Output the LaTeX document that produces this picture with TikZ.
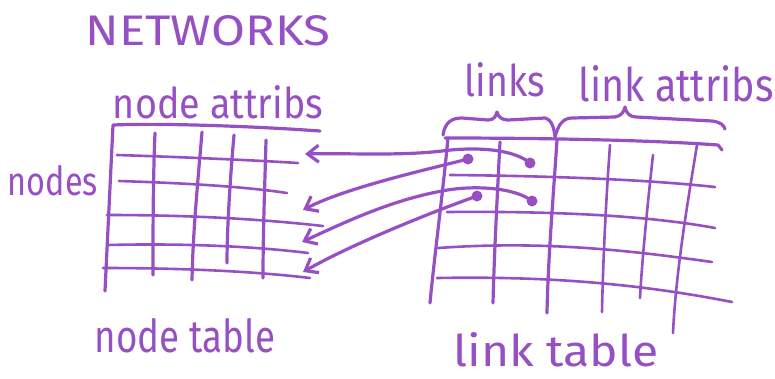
\documentclass[tikz,border=0pt]{standalone}
\usepackage{fontspec}
\setmainfont{Fira Sans}
\usetikzlibrary{arrows.meta}
\definecolor{ink}{RGB}{150,80,195}
\newcommand{\hw}[3]{\resizebox{#1pt}{#2pt}{#3}}
\begin{document}
\begin{tikzpicture}[x=1pt,y=-1pt,
  pen/.style={draw=ink, line width=3.2pt, line cap=round, line join=round},
  fine/.style={draw=ink, line width=2.6pt, line cap=round, line join=round},
  barb/.style={-{Straight Barb[length=11pt,width=17pt]}},
  dot/.style={circle, fill=ink, inner sep=0pt, minimum size=11pt},
  lbl/.style={text=ink, inner sep=0pt}]
\useasboundingbox (0,0) rectangle (775,378);

% titles and captions
\node[lbl] (title) at (208,31) {\hw{245}{30}{NETWORKS}};
\node[lbl] (nattr) at (218,102) {\hw{210}{33}{node attribs}};
\node[lbl] (nodes) at (53,181) {\hw{90}{30}{nodes}};
\node[lbl] (ntab) at (185,336) {\hw{180}{34}{node table}};
\node[lbl] (links) at (505,80) {\hw{80}{34}{links}};
\node[lbl] (lattr) at (676,84) {\hw{195}{36}{link attribs}};
\node[lbl] (ltab) at (556,350) {\hw{205}{34}{link table}};

% node table grid
\draw[pen] (320,131) .. controls (250,126) and (160,123) .. (113,125) -- (105,291);
\draw[fine] (117,155) .. controls (180,157) and (250,160) .. (298,163);
\draw[fine] (119,181) .. controls (180,183) and (240,186) .. (287,193);
\draw[fine] (107,215) .. controls (190,215) and (260,219) .. (323,226);
\draw[fine] (108,245) .. controls (190,243) and (260,247) .. (308,253);
\draw[fine] (103,268) .. controls (190,268) and (260,272) .. (310,278);
\draw[pen] (155,133) .. controls (153,180) and (153,230) .. (153,275);
\draw[pen] (202,132) .. controls (198,180) and (193,230) .. (192,280);
\draw[pen] (234,135) .. controls (230,180) and (227,230) .. (227,263);
\draw[pen] (266,140) .. controls (265,180) and (263,230) .. (263,278);

% link table grid
\draw[pen] (445,138) .. controls (540,138) and (650,140) .. (718,145) -- (722,150);
\draw[pen] (448,138) .. controls (442,200) and (434,260) .. (430,303);
\draw[pen] (500,142) .. controls (497,200) and (494,260) .. (493,303);
\draw[pen] (557,140) .. controls (553,200) and (548,260) .. (547,313);
\draw[fine] (610,145) .. controls (606,200) and (603,260) .. (602,312);
\draw[fine] (653,155) .. controls (648,200) and (642,260) .. (640,298);
\draw[fine] (697,145) .. controls (688,200) and (676,270) .. (673,333);
\draw[fine] (450,175) .. controls (560,176) and (650,180) .. (715,187);
\draw[fine] (447,212) .. controls (560,211) and (650,216) .. (715,228);
\draw[fine] (438,248) .. controls (550,240) and (640,252) .. (712,262);
\draw[fine] (437,278) .. controls (550,276) and (640,284) .. (732,302);

% braces over the link table
\draw[pen] (443,135) .. controls (445,122) and (452,118) .. (462,118)
  -- (488,120) .. controls (494,120) and (496,116) .. (497,112)
  .. controls (498,117) and (502,120) .. (508,120)
  -- (545,118) .. controls (552,120) and (554,128) .. (555,137);
\draw[pen] (555,137) .. controls (558,125) and (563,118) .. (572,118)
  -- (615,117) .. controls (621,116) and (624,112) .. (625,107)
  .. controls (626,113) and (630,117) .. (636,117)
  -- (712,121) .. controls (720,122) and (724,125) .. (725,129);

% link end points
\node[dot] (s1) at (468,159) {};
\node[dot] (t1) at (530,163) {};
\node[dot] (s2) at (477,196) {};
\node[dot] (t2) at (532,201) {};
\coordinate (r1) at (305,154);
\coordinate (r2) at (303,210);
\coordinate (r3) at (302,242);
\coordinate (r4) at (303,272);

% links pointing back into the node table
\draw[pen, barb] (t1.center) .. controls (512,148) and (472,147) .. (442,151)
  .. controls (400,156) and (350,153) .. (r1);
\draw[pen, barb] (s1.center) .. controls (425,170) and (345,188) .. (r2);
\draw[pen, barb] (t2.center) .. controls (514,187) and (472,185) .. (442,191)
  .. controls (392,200) and (345,222) .. (r3);
\draw[pen, barb] (s2.center) .. controls (432,212) and (352,244) .. (r4);
\end{tikzpicture}
\end{document}
